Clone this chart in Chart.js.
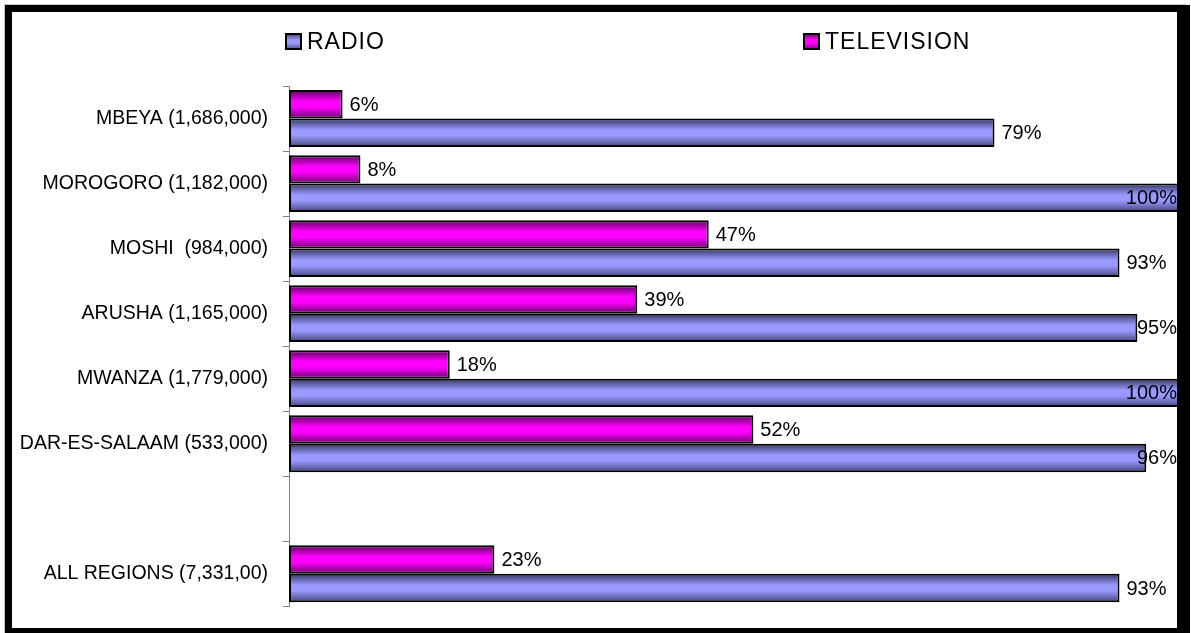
<!DOCTYPE html>
<html>
<head>
<meta charset="utf-8">
<script src="https://cdn.jsdelivr.net/npm/chart.js@4/dist/chart.umd.min.js"></script>
<style>
  html, body { margin: 0; padding: 0; background: #fff; }
  #wrap { position: relative; width: 1191px; height: 633px; }
</style>
</head>
<body>
<div id="wrap"><canvas id="chart-media"></canvas></div>
<script>
const categories = [
  'MBEYA (1,686,000)',
  'MOROGORO (1,182,000)',
  'MOSHI  (984,000)',
  'ARUSHA (1,165,000)',
  'MWANZA (1,779,000)',
  'DAR-ES-SALAAM (533,000)',
  '',
  'ALL REGIONS (7,331,00)'
];
const tvValues = [6, 8, 47, 39, 18, 52, null, 23];
const radioValues = [79, 100, 93, 95, 100, 96, null, 93];

const FONT = '"Liberation Sans", Arial, sans-serif';
const shades = {
  radio: ['#35355f', '#9999ff', '#9999ff', '#45457a'],
  tv: ['#5a005a', '#ff00ff', '#ff00ff', '#6a006a']
};

function makeGrad(ctx, top, h, stops) {
  const g = ctx.createLinearGradient(0, top, 0, top + h);
  g.addColorStop(0, stops[0]);
  g.addColorStop(0.4, stops[1]);
  g.addColorStop(0.6, stops[2]);
  g.addColorStop(1, stops[3]);
  return g;
}

// bar fill: vertical shading per bar, worked out from the category scale
function barFill(key) {
  return (c) => {
    const y = c.chart.scales.y;
    if (!y || y.top === undefined) return shades[key][1];
    const slot = (y.bottom - y.top) / categories.length;
    const half = slot * 0.874 / 2;
    const mid = y.getPixelForValue(c.dataIndex);
    const top = c.datasetIndex === 0 ? mid - half : mid;
    return makeGrad(c.chart.ctx, top, half, shades[key]);
  };
}

const valueLabels = {
  id: 'valueLabels',
  afterDatasetsDraw(chart) {
    const ctx = chart.ctx;
    const limit = 1177;
    ctx.save();
    ctx.font = '20px ' + FONT;
    ctx.fillStyle = '#000';
    ctx.textBaseline = 'middle';
    ctx.textAlign = 'left';
    chart.data.datasets.forEach((ds, i) => {
      chart.getDatasetMeta(i).data.forEach((bar, j) => {
        const v = ds.data[j];
        if (v == null) return;
        const txt = v + '%';
        const w = ctx.measureText(txt).width;
        let x = bar.x + 7;
        if (x + w > limit) x = limit - w;
        ctx.fillText(txt, x, bar.y + 1);
      });
    });
    ctx.restore();
  }
};

const legendAndFrame = {
  id: 'legendAndFrame',
  beforeDraw(chart) {
    const ctx = chart.ctx;
    ctx.save();
    ctx.fillStyle = '#fff';
    ctx.fillRect(0, 0, chart.width, chart.height);
    ctx.restore();
  },
  afterDraw(chart) {
    const ctx = chart.ctx;
    ctx.save();
    // legend: RADIO then TELEVISION
    const items = [
      { text: chart.data.datasets[1].label, key: 'radio', x: 285 },
      { text: chart.data.datasets[0].label, key: 'tv', x: 803 }
    ];
    ctx.font = '23px ' + FONT;
    ctx.letterSpacing = '1px';
    ctx.textBaseline = 'middle';
    items.forEach((it) => {
      ctx.fillStyle = makeGrad(ctx, 33, 17, shades[it.key]);
      ctx.fillRect(it.x, 33, 17, 17);
      ctx.lineWidth = 2;
      ctx.strokeStyle = '#000';
      ctx.strokeRect(it.x + 1, 34, 15, 15);
      ctx.fillStyle = '#000';
      ctx.fillText(it.text, it.x + 22, 43);
    });
    ctx.letterSpacing = '0px';
    // frame
    ctx.fillStyle = '#000';
    ctx.fillRect(5, 5, 7, 628);
    ctx.fillRect(5, 5, 1185, 7);
    ctx.fillRect(1177, 5, 13, 628);
    ctx.fillRect(5, 628, 1185, 5);
    ctx.strokeStyle = '#c8c8c8';
    ctx.lineWidth = 1;
    ctx.beginPath();
    ctx.moveTo(4.5, 633);
    ctx.lineTo(4.5, 4.5);
    ctx.lineTo(1186, 4.5);
    ctx.stroke();
    ctx.restore();
  }
};

new Chart(document.getElementById('chart-media'), {
  type: 'bar',
  data: {
    labels: categories,
    datasets: [
      { label: 'TELEVISION', data: tvValues, backgroundColor: barFill('tv') },
      { label: 'RADIO', data: radioValues, backgroundColor: barFill('radio') }
    ]
  },
  options: {
    indexAxis: 'y',
    responsive: true,
    maintainAspectRatio: false,
    animation: false,
    datasets: {
      bar: {
        categoryPercentage: 0.874,
        barPercentage: 1,
        borderColor: '#000',
        borderWidth: 2,
        borderSkipped: false
      }
    },
    layout: { padding: { top: 86, bottom: 25, right: 9, left: 0 } },
    plugins: { legend: { display: false }, tooltip: { enabled: false } },
    scales: {
      x: { display: false, min: 0, max: 100 },
      y: {
        afterFit: (s) => { s.width = 289; },
        grid: { drawOnChartArea: false, drawTicks: true, tickLength: 6, color: '#808080' },
        border: { color: '#808080', width: 1 },
        ticks: { color: '#000', padding: 15, font: { family: FONT, size: 19.5 } }
      }
    }
  },
  plugins: [valueLabels, legendAndFrame]
});
</script>
</body>
</html>
